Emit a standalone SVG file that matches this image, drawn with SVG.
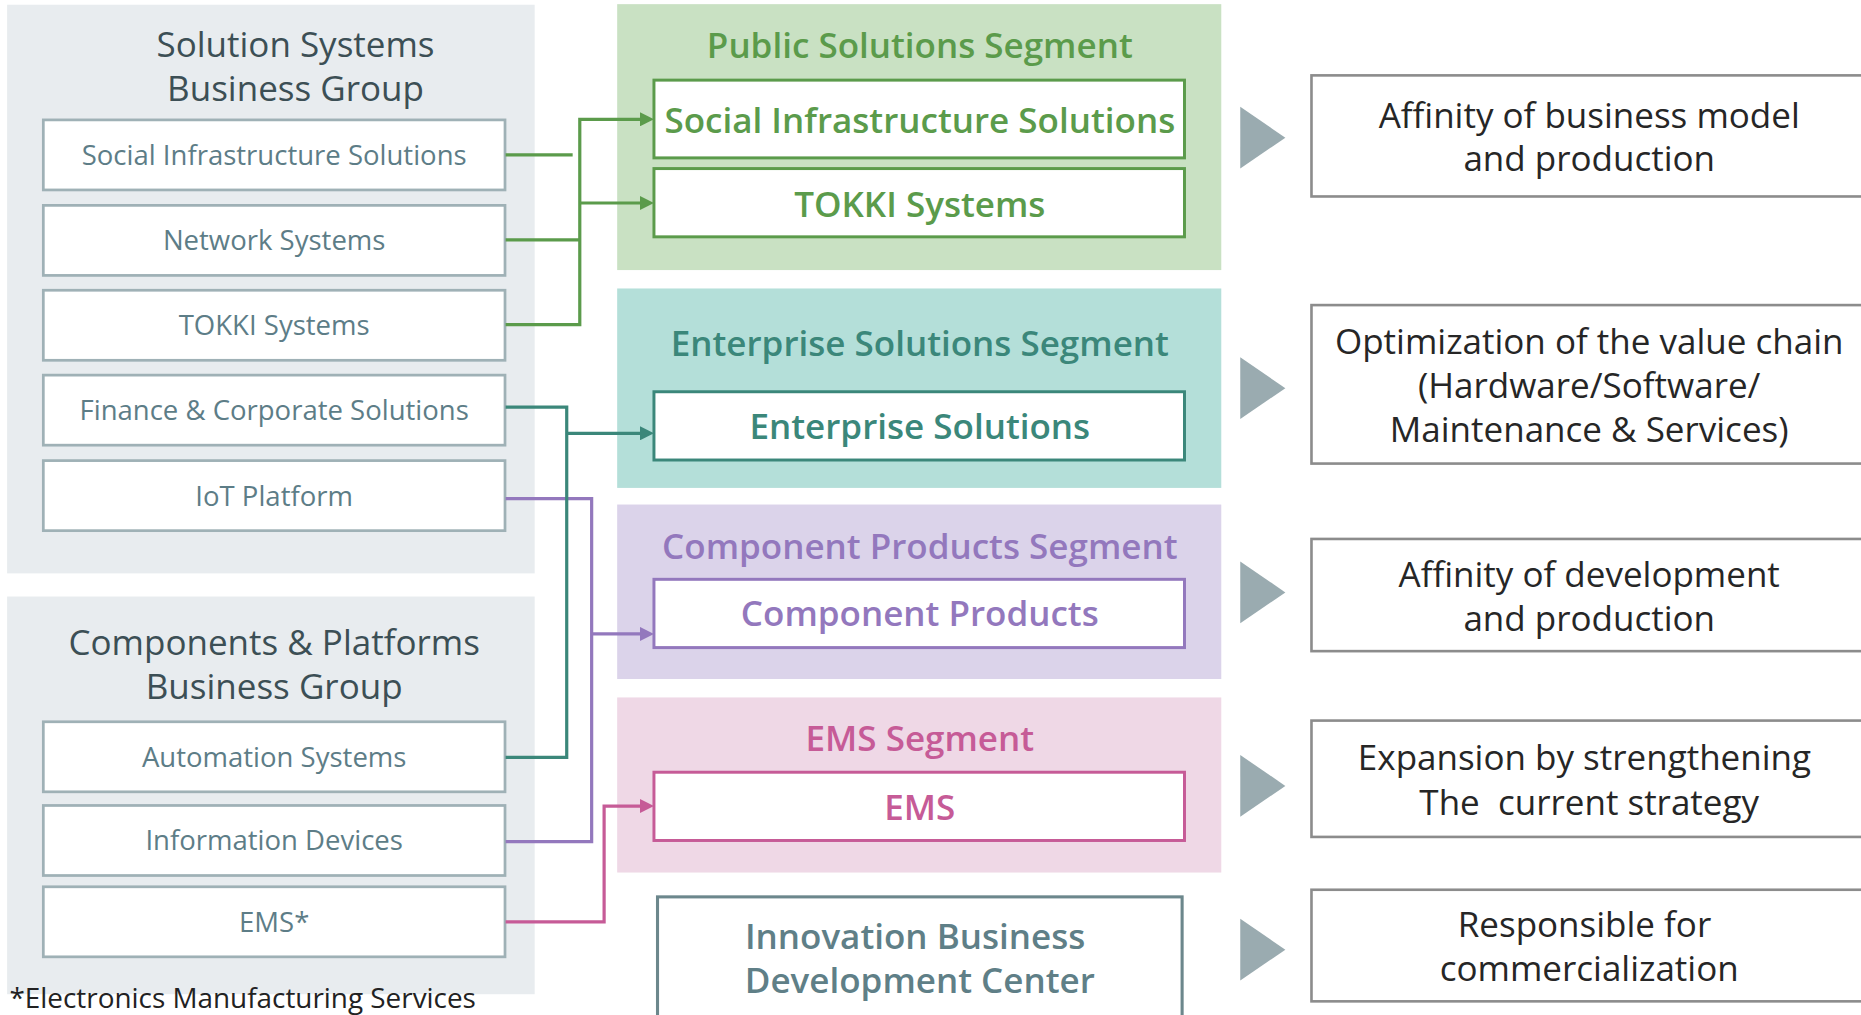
<svg xmlns="http://www.w3.org/2000/svg" width="1861" height="1015" viewBox="0 0 1861 1015">
  <defs>
    <style>
      text { font-family: 'Open Sans', 'Noto Sans', 'DejaVu Sans', sans-serif; text-anchor: middle; }
      .grp-bg { fill: #e8ecef; }
      .grp-title { font-size: 29.5px; fill: #3c4f55; }
      .sub-box { fill: #ffffff; stroke: #9fb1b6; stroke-width: 2.3; }
      .sub-text { font-size: 23.2px; fill: #5d7d87; }
      .seg-title { font-size: 29.5px; font-weight: 600; }
      .seg-box { fill: #ffffff; stroke-width: 2.5; }
      .seg-text { font-size: 29.5px; font-weight: 600; }
      .green-bg { fill: #c9e1c3; }
      .teal-bg { fill: #b4dfd9; }
      .purple-bg { fill: #dbd3ea; }
      .pink-bg { fill: #efd8e6; }
      .green { fill: #5b9b4b; }
      .teal { fill: #3b877a; }
      .purple { fill: #9378bd; }
      .pink { fill: #c65b97; }
      .green-s { stroke: #5b9b4b; }
      .teal-s { stroke: #3b877a; }
      .purple-s { stroke: #9378bd; }
      .pink-s { stroke: #c65b97; }
      .conn { fill: none; stroke-width: 2.7; }
      .tri { fill: #9aabb0; }
      .note-box { fill: #ffffff; stroke: #8c8c8c; stroke-width: 2.2; }
      .note-text { font-size: 29.5px; fill: #262626; }
      .ibdc-box { fill: #ffffff; stroke: #6c878c; stroke-width: 2.6; }
      .ibdc-text { font-size: 29.5px; font-weight: 600; fill: #5f7f87; }
      .foot { font-size: 23.5px; fill: #222222; text-anchor: start; }
    </style>
    <marker id="arr-green" markerUnits="userSpaceOnUse" markerWidth="12" markerHeight="12" viewBox="0 0 12 12" refX="6" refY="6" orient="auto"><path d="M0,0 L12,6 L0,12 z" fill="#5b9b4b"/></marker>
    <marker id="arr-teal" markerUnits="userSpaceOnUse" markerWidth="12" markerHeight="12" viewBox="0 0 12 12" refX="6" refY="6" orient="auto"><path d="M0,0 L12,6 L0,12 z" fill="#3b877a"/></marker>
    <marker id="arr-purple" markerUnits="userSpaceOnUse" markerWidth="12" markerHeight="12" viewBox="0 0 12 12" refX="6" refY="6" orient="auto"><path d="M0,0 L12,6 L0,12 z" fill="#9378bd"/></marker>
    <marker id="arr-pink" markerUnits="userSpaceOnUse" markerWidth="12" markerHeight="12" viewBox="0 0 12 12" refX="6" refY="6" orient="auto"><path d="M0,0 L12,6 L0,12 z" fill="#c65b97"/></marker>
  </defs>
  <rect width="1861" height="1015" fill="#ffffff"/>
  <g transform="scale(1.18686 1.18713)">
    <!-- Business groups -->
    <g id="group-solution-systems">
      <rect class="grp-bg" x="6" y="4" width="444.5" height="479"/>
      <text class="grp-title" x="249" y="48">Solution Systems</text>
      <text class="grp-title" x="249" y="85">Business Group</text>
    </g>
    <g id="group-components-platforms">
      <rect class="grp-bg" x="6" y="502.5" width="444.5" height="335"/>
      <text class="grp-title" x="231" y="552">Components &amp; Platforms</text>
      <text class="grp-title" x="231" y="589">Business Group</text>
    </g>

    <!-- Left business units -->
    <g id="node-left-social-infrastructure">
      <rect class="sub-box" x="36.5" y="101" width="389" height="59"/>
      <text class="sub-text" x="231" y="139">Social Infrastructure Solutions</text>
    </g>
    <g id="node-left-network-systems">
      <rect class="sub-box" x="36.5" y="173" width="389" height="59"/>
      <text class="sub-text" x="231" y="211">Network Systems</text>
    </g>
    <g id="node-left-tokki-systems">
      <rect class="sub-box" x="36.5" y="244.5" width="389" height="59"/>
      <text class="sub-text" x="231" y="282.5">TOKKI Systems</text>
    </g>
    <g id="node-left-finance-corporate">
      <rect class="sub-box" x="36.5" y="316" width="389" height="59"/>
      <text class="sub-text" x="231" y="354">Finance &amp; Corporate Solutions</text>
    </g>
    <g id="node-left-iot-platform">
      <rect class="sub-box" x="36.5" y="388" width="389" height="59"/>
      <text class="sub-text" x="231" y="426">IoT Platform</text>
    </g>
    <g id="node-left-automation-systems">
      <rect class="sub-box" x="36.5" y="608" width="389" height="59"/>
      <text class="sub-text" x="231" y="646">Automation Systems</text>
    </g>
    <g id="node-left-information-devices">
      <rect class="sub-box" x="36.5" y="678.5" width="389" height="59"/>
      <text class="sub-text" x="231" y="716">Information Devices</text>
    </g>
    <g id="node-left-ems">
      <rect class="sub-box" x="36.5" y="747" width="389" height="59"/>
      <text class="sub-text" x="231" y="785">EMS*</text>
    </g>

    <!-- Segments -->
    <g id="segment-public-solutions">
      <rect class="green-bg" x="520" y="3.5" width="509" height="224"/>
      <text class="seg-title green" x="775" y="49">Public Solutions Segment</text>
    </g>
    <g id="node-seg-social-infrastructure">
      <rect class="seg-box green-s" x="551" y="67.5" width="447" height="65.5"/>
      <text class="seg-text green" x="775" y="112">Social Infrastructure Solutions</text>
    </g>
    <g id="node-seg-tokki-systems">
      <rect class="seg-box green-s" x="551" y="142" width="447" height="57.5"/>
      <text class="seg-text green" x="775" y="182.5">TOKKI Systems</text>
    </g>

    <g id="segment-enterprise-solutions">
      <rect class="teal-bg" x="520" y="243" width="509" height="168"/>
      <text class="seg-title teal" x="775" y="300">Enterprise Solutions Segment</text>
    </g>
    <g id="node-seg-enterprise-solutions">
      <rect class="seg-box teal-s" x="551" y="330" width="447" height="57.5"/>
      <text class="seg-text teal" x="775" y="369.5">Enterprise Solutions</text>
    </g>

    <g id="segment-component-products">
      <rect class="purple-bg" x="520" y="425" width="509" height="147"/>
      <text class="seg-title purple" x="775" y="471">Component Products Segment</text>
    </g>
    <g id="node-seg-component-products">
      <rect class="seg-box purple-s" x="551" y="488" width="447" height="57.5"/>
      <text class="seg-text purple" x="775" y="527.5">Component Products</text>
    </g>

    <g id="segment-ems">
      <rect class="pink-bg" x="520" y="587.5" width="509" height="147.5"/>
      <text class="seg-title pink" x="775" y="632.5">EMS Segment</text>
    </g>
    <g id="node-seg-ems">
      <rect class="seg-box pink-s" x="551" y="650.5" width="447" height="57.5"/>
      <text class="seg-text pink" x="775" y="690.5">EMS</text>
    </g>

    <g id="node-innovation-center">
      <rect class="ibdc-box" x="554" y="755.5" width="442" height="130"/>
      <text class="ibdc-text" x="771" y="799">Innovation Business</text>
      <text class="ibdc-text" x="775" y="836.5">Development Center</text>
    </g>

    <!-- Connectors -->
    <g id="connectors">
      <path class="conn green-s" d="M426,130.5 H482.5"/>
      <path class="conn green-s" d="M426,202 H488.5"/>
      <path class="conn green-s" d="M426,273.5 H488.5 V100.5 H545" marker-end="url(#arr-green)"/>
      <path class="conn green-s" d="M488.5,171 H545" marker-end="url(#arr-green)"/>
      <path class="conn purple-s" d="M426,420 H498.5 V709 H426"/>
      <path class="conn purple-s" d="M498.5,534 H545" marker-end="url(#arr-purple)"/>
      <path class="conn teal-s" d="M426,343 H477.5 V638 H426"/>
      <path class="conn teal-s" d="M477.5,365 H545" marker-end="url(#arr-teal)"/>
      <path class="conn pink-s" d="M426,776.5 H509 V679 H545" marker-end="url(#arr-pink)"/>
    </g>

    <!-- Pointer triangles -->
    <g id="pointers">
      <polygon class="tri" points="1045,90 1083,116 1045,142"/>
      <polygon class="tri" points="1045,301 1083,327 1045,353"/>
      <polygon class="tri" points="1045,473 1083,499 1045,525"/>
      <polygon class="tri" points="1045,636 1083,662 1045,688"/>
      <polygon class="tri" points="1045,774 1083,800 1045,826"/>
    </g>

    <!-- Notes -->
    <g id="note-business-model">
      <rect class="note-box" x="1105" y="63.5" width="520" height="102"/>
      <text class="note-text" x="1339" y="107.5">Affinity of business model</text>
      <text class="note-text" x="1339" y="144">and production</text>
    </g>
    <g id="note-value-chain">
      <rect class="note-box" x="1105" y="257" width="520" height="133.5"/>
      <text class="note-text" x="1339" y="298">Optimization of the value chain</text>
      <text class="note-text" x="1339" y="335">(Hardware/Software/</text>
      <text class="note-text" x="1339" y="372">Maintenance &amp; Services)</text>
    </g>
    <g id="note-development">
      <rect class="note-box" x="1105" y="454" width="520" height="94.5"/>
      <text class="note-text" x="1339" y="494.5">Affinity of development</text>
      <text class="note-text" x="1339" y="531.5">and production</text>
    </g>
    <g id="note-expansion">
      <rect class="note-box" x="1105" y="607" width="520" height="98"/>
      <text class="note-text" x="1335" y="649" xml:space="preserve">Expansion by strengthening</text>
      <text class="note-text" x="1339" y="686.5" xml:space="preserve">The  current strategy</text>
    </g>
    <g id="note-commercialization">
      <rect class="note-box" x="1105" y="749.5" width="520" height="94"/>
      <text class="note-text" x="1335" y="789">Responsible for</text>
      <text class="note-text" x="1339" y="826.5">commercialization</text>
    </g>

    <text class="foot" x="8" y="849">*Electronics Manufacturing Services</text>
  </g>
</svg>
